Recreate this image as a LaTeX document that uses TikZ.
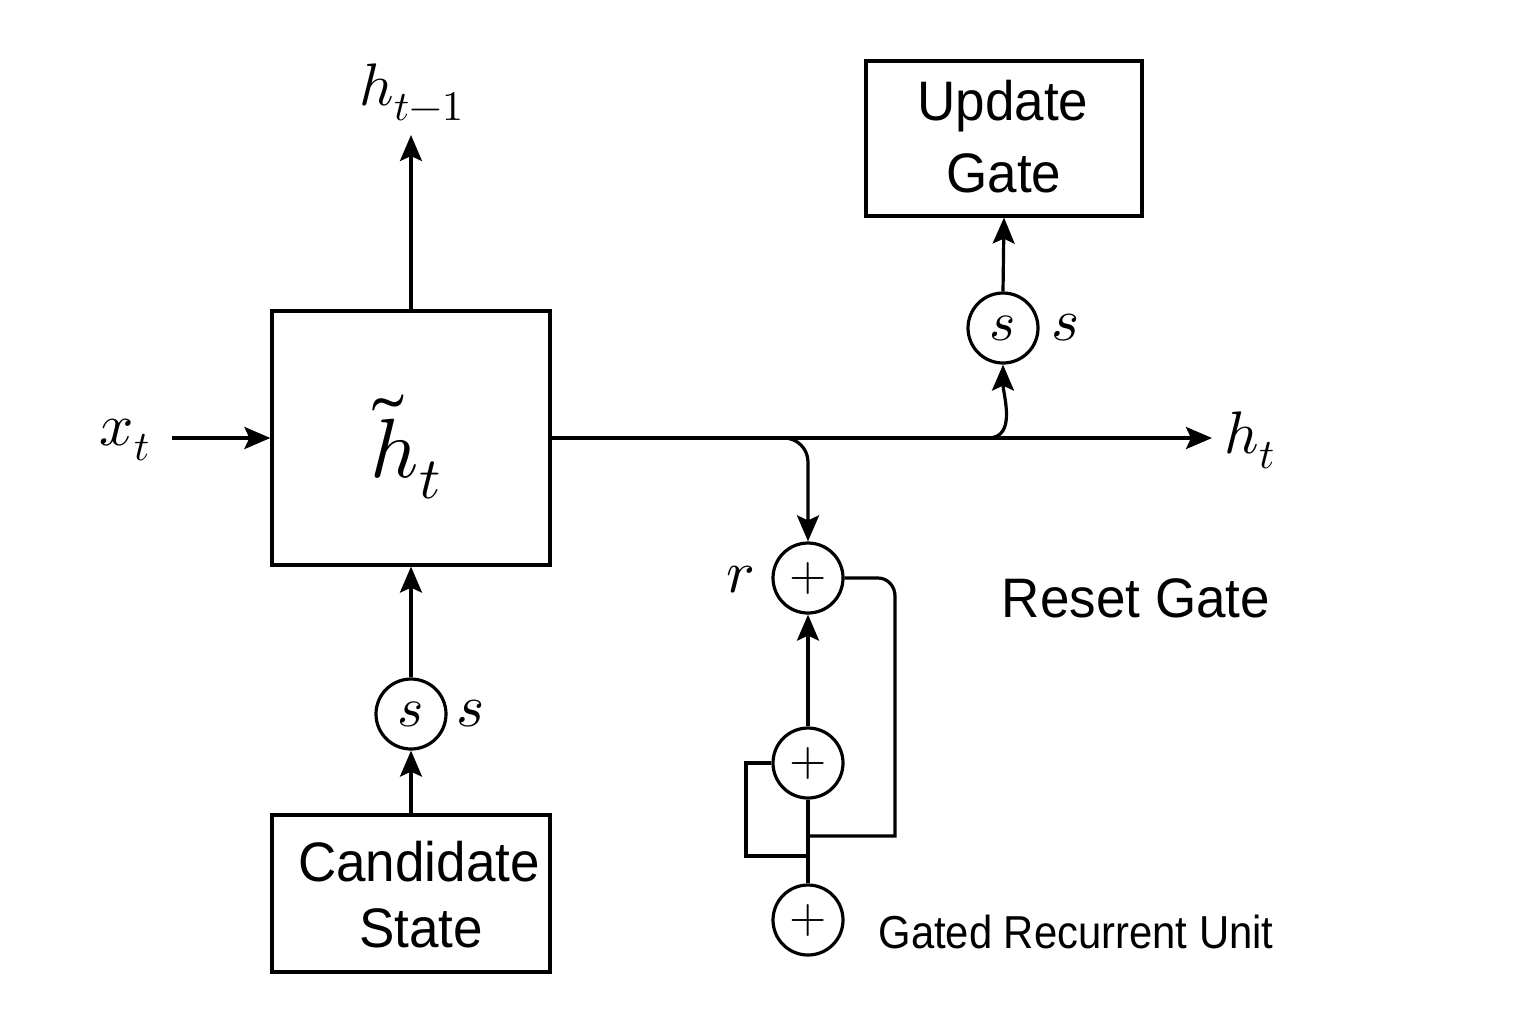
\documentclass[tikz,border=0pt]{standalone}
\usepackage{fontspec}
\usepackage{unicode-math}
\setsansfont{Liberation Sans}
\usetikzlibrary{arrows.meta}
\begin{document}
\begin{tikzpicture}[x=0.5pt,y=-0.5pt,line width=1.6pt,
  arr/.style={-{Stealth[length=13pt,width=11pt,inset=2.5pt]}},
  boxnode/.style={draw,inner sep=0pt},
  circ/.style={draw,circle,minimum size=35pt,inner sep=0pt},
  mathlbl/.style={inner sep=0pt,font=\fontsize{30}{36}\selectfont},
  txt/.style={inner sep=0pt,font=\sffamily\fontsize{26.5}{32}\selectfont,yscale=1.05}]
\useasboundingbox (0,0) rectangle (1536,1024);
% boxes
\node[boxnode,minimum width=139pt,minimum height=127pt] (hbox) at (411,438) {};
\node[inner sep=0pt,font=\fontsize{42}{48}\selectfont] (hlab) at (406,447) {$\tilde{h}_t$};
\node[boxnode,minimum width=139pt,minimum height=78.5pt] (cand) at (411,893.5) {};
\node[txt] (candt1) at (419,862) {Candidate};
\node[txt] (candt2) at (421,928) {State};
\node[boxnode,minimum width=138pt,minimum height=77.5pt] (upd) at (1004,138.5) {};
\node[txt] (updt1) at (1003,106) {Update};
\node[txt] (updt2) at (1004,173) {Gate};
% circles
\node[circ] (sig1) at (411,714) {\fontsize{28}{34}\selectfont$s$};
\node[circ] (sig2) at (1003,328) {\fontsize{28}{34}\selectfont$s$};
\node[circ] (r1) at (808,578) {\fontsize{24}{30}\selectfont$+$};
\node[circ] (p2) at (808,763) {\fontsize{24}{30}\selectfont$+$};
\node[circ] (p3) at (808,920) {\fontsize{24}{30}\selectfont$+$};
% labels
\node[mathlbl] (htm) at (412,92) {$h_{t-1}$};
\node[mathlbl] (xt) at (125,440) {$x_t$};
\node[mathlbl] (ht) at (1250,440) {$h_t$};
\node[mathlbl] (s1) at (471,714) {$s$};
\node[mathlbl] (s2) at (1066,328) {$s$};
\node[mathlbl] (rl) at (740,580) {$r$};
\node[txt] (reset) at (1136,598) {Reset Gate};
\node[inner sep=0pt,font=\sffamily\fontsize{22}{26}\selectfont,xscale=0.95,yscale=1.05] (gru) at (1076,932) {Gated Recurrent Unit};
% coordinates
\coordinate (brA) at (760,438);
\coordinate (brB) at (988,438);
\coordinate (j1) at (808,836);
\coordinate (j2) at (808,856);
\coordinate (htip) at (1212,438);
\coordinate (xstart) at (172,438);
\coordinate (htmtip) at (411,135);
\coordinate (lpA) at (878,578);
\coordinate (lpB) at (895,596);
\coordinate (lpC) at (895,836);
% connectors
\draw[arr] (hbox.east) -- (htip);
\draw[arr] (xstart) -- (hbox.west);
\draw[arr] (hbox.north) -- (htmtip);
\draw[arr,rounded corners=12pt] (brA) -| (r1.north);
\draw[arr] (brB) to[out=0,in=-90] (sig2.south);
\draw[arr] (sig2.north) -- (upd.south);
\draw[arr] (sig1.north) -- (hbox.south);
\draw[arr] (cand.north) -- (sig1.south);
\draw[arr] (p2.north) -- (r1.south);
\draw (p2.south) -- (p3.north);
\draw (r1.east) -- (lpA) to[out=0,in=90] (lpB) -- (lpC) -- (j1);
\draw (p2.west) -- (746,763) -- (746,856) -- (j2);
\end{tikzpicture}
\end{document}
